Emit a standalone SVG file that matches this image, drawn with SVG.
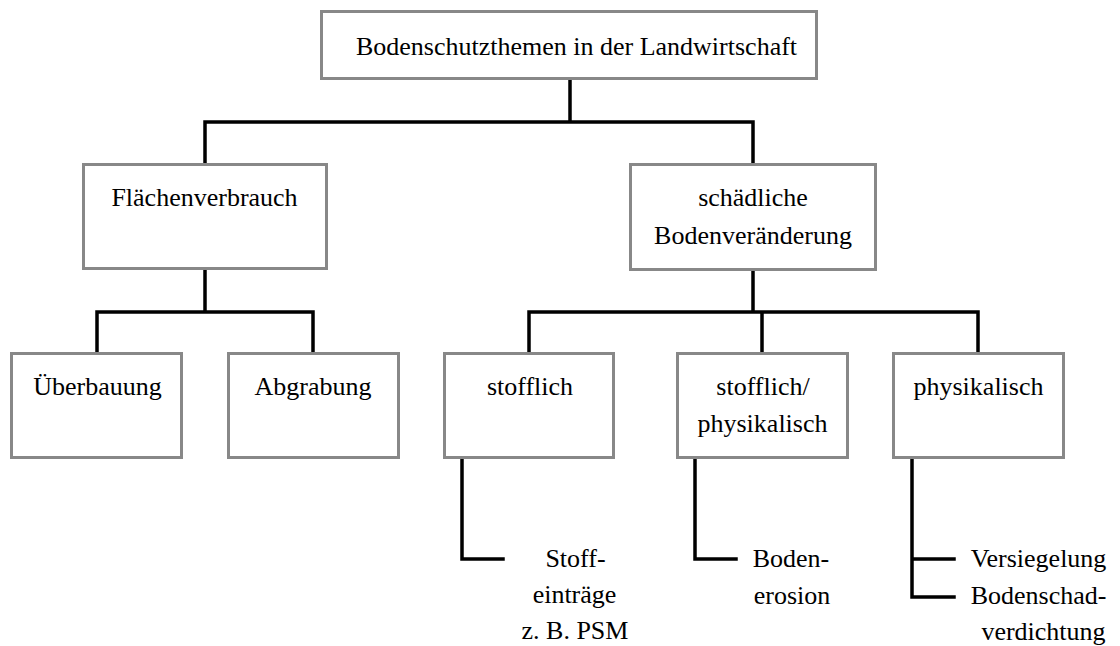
<svg xmlns="http://www.w3.org/2000/svg" width="1120" height="646" viewBox="0 0 1120 646">
  <style>
    .box { fill: #ffffff; stroke: #888888; stroke-width: 3; }
    .lbl { font-size: 26px; fill: #000000; text-anchor: middle; }
    .wire { fill: none; stroke: #000000; stroke-width: 3.5; stroke-linecap: square; }
  </style>
  <rect width="1120" height="646" fill="#ffffff"/>

  <!-- connectors -->
  <g id="connectors">
    <path class="wire" d="M570 81 V122 M205 122 H753 M205 122 V163 M753 122 V163"/>
    <path class="wire" d="M205 269 V312 M97 312 H313 M97 312 V353 M313 312 V353"/>
    <path class="wire" d="M753 271 V312 M529 312 H978 M529 312 V353 M762 312 V353 M978 312 V353"/>
    <path class="wire" d="M462 459 V559 H503"/>
    <path class="wire" d="M695 459 V559 H736"/>
    <path class="wire" d="M912 459 V597 H954 M912 559 H954"/>
  </g>

  <g id="node-root">
    <rect class="box" x="321.5" y="11.5" width="495" height="67"/>
    <text class="lbl" style="font-family: 'Liberation Serif', serif" x="576.5" y="55">Bodenschutzthemen in der Landwirtschaft</text>
  </g>

  <g id="node-flaechenverbrauch">
    <rect class="box" x="83.5" y="164.5" width="243" height="104"/>
    <text class="lbl" style="font-family: 'Liberation Serif', serif" x="204.5" y="206">Flächenverbrauch</text>
  </g>

  <g id="node-bodenveraenderung">
    <rect class="box" x="630.5" y="164.5" width="245" height="105"/>
    <text class="lbl" style="font-family: 'Liberation Serif', serif" x="753" y="206">schädliche</text>
    <text class="lbl" style="font-family: 'Liberation Serif', serif" x="753" y="244">Bodenveränderung</text>
  </g>

  <g id="node-ueberbauung">
    <rect class="box" x="11.5" y="353.5" width="170" height="104"/>
    <text class="lbl" style="font-family: 'Liberation Serif', serif" x="97.5" y="395">Überbauung</text>
  </g>

  <g id="node-abgrabung">
    <rect class="box" x="228.5" y="353.5" width="170" height="104"/>
    <text class="lbl" style="font-family: 'Liberation Serif', serif" x="313" y="395">Abgrabung</text>
  </g>

  <g id="node-stofflich">
    <rect class="box" x="444.5" y="353.5" width="169" height="104"/>
    <text class="lbl" style="font-family: 'Liberation Serif', serif" x="530" y="395">stofflich</text>
  </g>

  <g id="node-stofflich-physikalisch">
    <rect class="box" x="677.5" y="353.5" width="170" height="104"/>
    <text class="lbl" style="font-family: 'Liberation Serif', serif" x="763" y="395">stofflich/</text>
    <text class="lbl" style="font-family: 'Liberation Serif', serif" x="762.5" y="432">physikalisch</text>
  </g>

  <g id="node-physikalisch">
    <rect class="box" x="893.5" y="353.5" width="170" height="104"/>
    <text class="lbl" style="font-family: 'Liberation Serif', serif" x="978.5" y="395">physikalisch</text>
  </g>

  <g id="node-stoffeintraege">
    <text class="lbl" style="font-family: 'Liberation Serif', serif" x="575.5" y="567">Stoff-</text>
    <text class="lbl" style="font-family: 'Liberation Serif', serif" x="574.5" y="603">einträge</text>
    <text class="lbl" style="font-family: 'Liberation Serif', serif" x="575" y="639">z. B. PSM</text>
  </g>

  <g id="node-bodenerosion">
    <text class="lbl" style="font-family: 'Liberation Serif', serif" x="791" y="567">Boden-</text>
    <text class="lbl" style="font-family: 'Liberation Serif', serif" x="792" y="604">erosion</text>
  </g>

  <g id="node-versiegelung">
    <text class="lbl" style="font-family: 'Liberation Serif', serif" x="1038.5" y="567">Versiegelung</text>
  </g>

  <g id="node-bodenschadverdichtung">
    <text class="lbl" style="font-family: 'Liberation Serif', serif" x="1038.5" y="604">Bodenschad-</text>
    <text class="lbl" style="font-family: 'Liberation Serif', serif" x="1043.5" y="640">verdichtung</text>
  </g>
</svg>
